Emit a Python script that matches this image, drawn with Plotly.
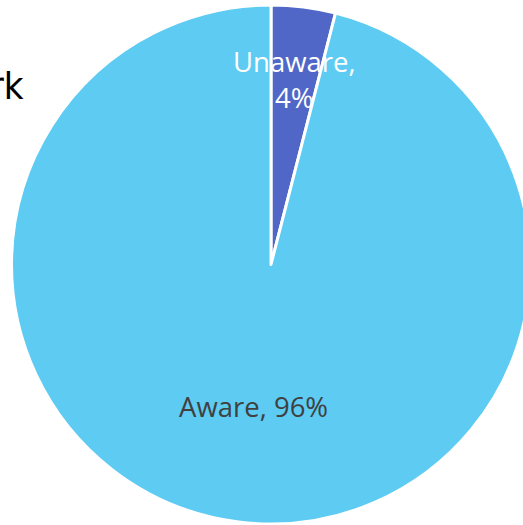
import math
import plotly.graph_objects as go

labels = ["Unaware", "Aware"]
values = [4, 96]
colors = ["#5067C8", "#5DCBF2"]
label_colors = ["#FFFFFF", "#404040"]
label_texts = ["Unaware,<br>4%", "Aware, 96%"]
label_radius = [0.72, 0.55]
title_text = "Awareness of the Network"

W, H = 542, 525
top, bottom = 5, 524
fig = go.Figure()
fig.add_trace(go.Pie(
    labels=labels, values=values, sort=False, direction="clockwise", rotation=0,
    marker=dict(colors=colors, line=dict(color="white", width=3)),
    textinfo="none", hoverinfo="label+percent", showlegend=False,
    domain=dict(x=[0, 1], y=[1 - bottom / H, 1 - top / H]),
))

cx, cy = 0.5, 1 - (top + bottom) / 2 / H
R = (bottom - top) / 2
total = sum(values)
start = 0.0
for v, t, c, rf in zip(values, label_texts, label_colors, label_radius):
    mid = (start + v / 2) / total * 2 * math.pi
    start += v
    dx = math.sin(mid) * R * rf
    dy = math.cos(mid) * R * rf
    fig.add_annotation(x=cx + dx / W, y=cy + dy / H, xref="paper", yref="paper",
                       text=t, showarrow=False, xanchor="center", yanchor="middle",
                       font=dict(family="Open Sans, sans-serif", size=27.5, color=c))

fig.add_annotation(x=26 / W, y=1 - 110 / H, xref="paper", yref="paper", text=title_text,
                   showarrow=False, xanchor="right", yanchor="bottom",
                   font=dict(family="Liberation Sans Narrow, DejaVu Sans Condensed, sans-serif", size=38, color="black"))

fig.update_layout(width=W, height=H, margin=dict(l=0, r=0, t=0, b=0),
                  paper_bgcolor="white", plot_bgcolor="white")
fig.write_html("out.html", post_script="document.body.style.margin='0';document.body.style.overflow='hidden';document.documentElement.style.overflow='hidden';")
